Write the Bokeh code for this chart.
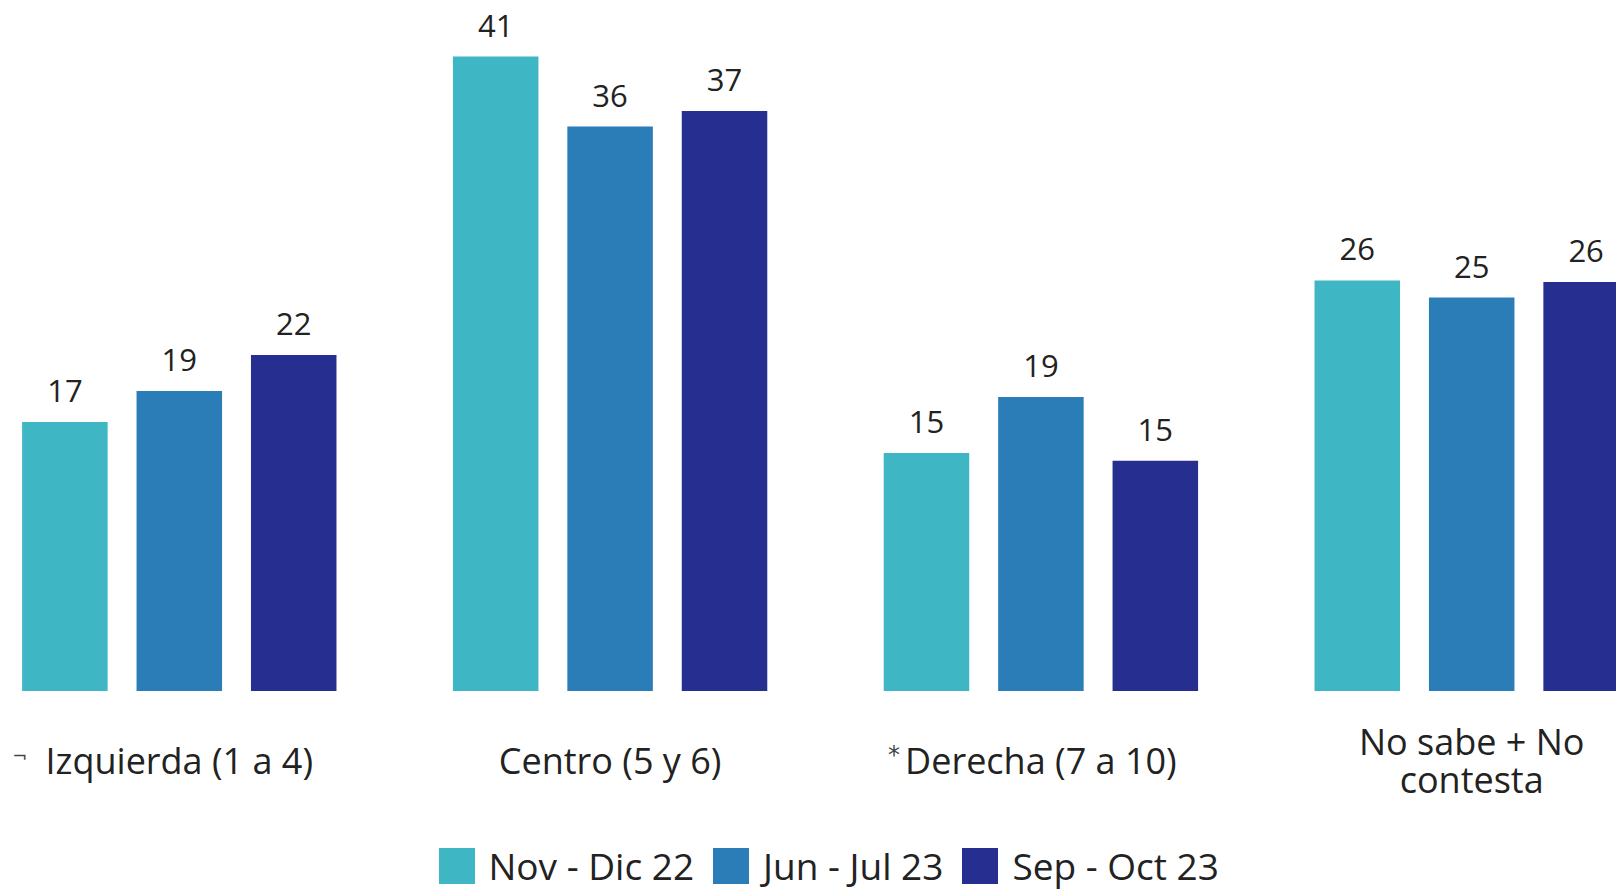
from bokeh.plotting import figure
from bokeh.models import ColumnDataSource, Range1d, Legend, LegendItem
from bokeh.core.properties import value
from bokeh.embed import file_html
from bokeh.resources import INLINE

categories = ["Izquierda (1 a 4)", "Centro (5 y 6)", "Derecha (7 a 10)", "No sabe + No\ncontesta"]
marks = ["¬", "", "*", ""]
series = ["Nov - Dic 22", "Jun - Jul 23", "Sep - Oct 23"]
nov_dic_22 = [17.3, 40.8, 15.3, 26.4]
jun_jul_23 = [19.3, 36.3, 18.9, 25.3]
sep_oct_23 = [21.6, 37.3, 14.8, 26.3]
colors = ["#3EB6C3", "#2B7DB8", "#262F8F"]

FONT = "Open Sans"
TXT = "#222222"

W, H = 1616, 890
PXU = 430.8
BASE = 690.5
PYU = 15.55
p = figure(width=W, height=H, output_backend="svg", toolbar_location=None,
           x_range=Range1d(-178.8 / PXU, (W - 178.8) / PXU),
           y_range=Range1d(-(H - BASE) / PYU, BASE / PYU),
           min_border=0, min_border_left=0, min_border_right=0,
           min_border_top=0, min_border_bottom=0)
p.axis.visible = False
p.grid.visible = False
p.outline_line_color = None
p.background_fill_color = "white"
p.border_fill_color = "white"

xs = list(range(len(categories)))
offsets = [-0.2656, 0.0, 0.2656]
vals = [nov_dic_22, jun_jul_23, sep_oct_23]
items = []
for s, v, off, c in zip(series, vals, offsets, colors):
    src = ColumnDataSource(dict(x=[i + off for i in xs], top=v,
                                lab=[f"{t:.0f}" for t in v]))
    r = p.vbar(x="x", top="top", bottom=0, width=0.1985, source=src,
               fill_color=c, line_color=None)
    p.text(x="x", y="top", text="lab", source=src, y_offset=-31,
           text_align="center", text_baseline="middle",
           text_font=value(FONT), text_font_size="31px", text_color=TXT)
    items.append(LegendItem(label=s, renderers=[r]))

cat_src = ColumnDataSource(dict(x=xs, y=[0] * len(xs), t=categories))
p.text(x="x", y="y", text="t", source=cat_src, y_offset=69.5,
       text_align="center", text_baseline="middle", text_line_height=0.76,
       text_font=value(FONT), text_font_size="36px", text_color=TXT)

mark_src = ColumnDataSource(dict(x=[0, 2], y=[0, 0], m=[marks[0], marks[2]],
                                 xo=[-152, -141], yo=[64, 64], fs=["18px", "24px"]))
p.text(x="x", y="y", text="m", source=mark_src, x_offset="xo", y_offset="yo",
       text_align="right", text_baseline="middle",
       text_font=value("DejaVu Sans"), text_font_size="fs", text_color="#444444")

legend = Legend(items=items, orientation="horizontal", location=(433.5, -1),
                glyph_width=45, glyph_height=45, label_height=45,
                label_standoff=10, spacing=14, padding=0, margin=0,
                label_text_font=FONT, label_text_font_size="37px",
                label_text_color=TXT, border_line_color=None,
                background_fill_alpha=0)
p.add_layout(legend, "center")

open("out.html", "w").write(file_html(p, INLINE))
